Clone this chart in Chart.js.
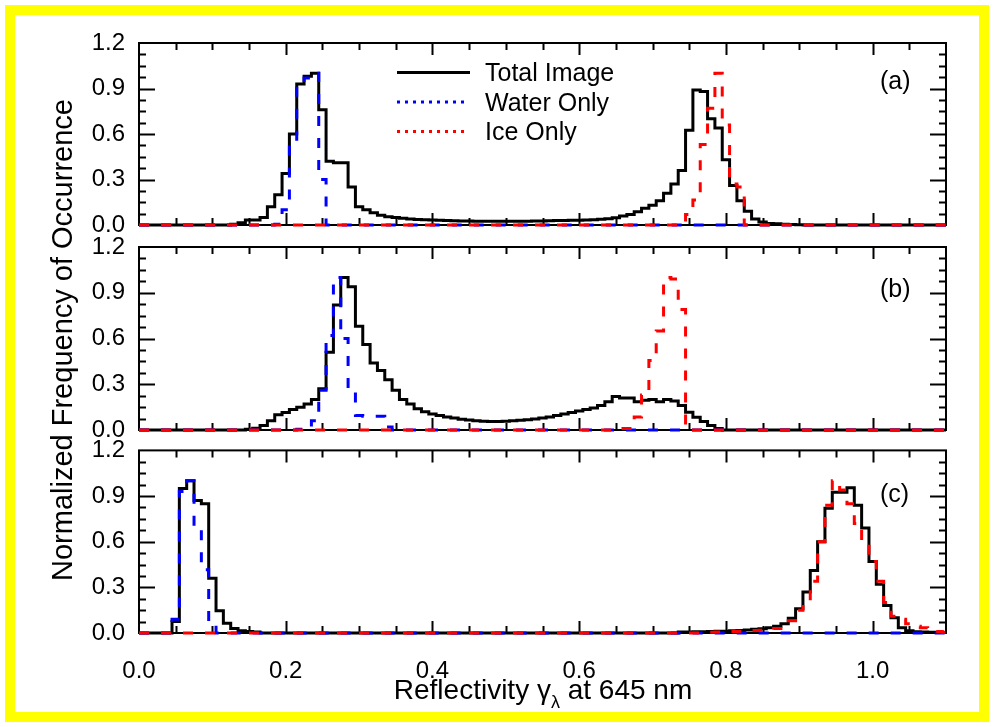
<!DOCTYPE html>
<html>
<head>
<meta charset="utf-8">
<script src="https://cdn.jsdelivr.net/npm/chart.js@4.4.0/dist/chart.umd.min.js"></script>
<style>
  body { margin: 0; width: 994px; height: 727px; background: #fff; position: relative; overflow: hidden;
         font-family: "Liberation Sans", Arial, sans-serif; color: #000; }
  #frame { position: absolute; left: 5px; top: 5px; width: 964px; height: 697px; border: 10px solid #ffff00; }
  canvas { position: absolute; left: 0; }
  .txt { position: absolute; white-space: nowrap; font-size: 25px; line-height: 30px; }
  #ytitle { position: absolute; left: 62px; top: 340px; font-size: 29px; white-space: nowrap;
            transform: translate(-50%, -50%) rotate(-90deg); }
  #xtitle { position: absolute; left: 543px; top: 674px; font-size: 28px; white-space: nowrap;
            transform: translateX(-50%); }
  #xtitle sub { font-size: 18px; vertical-align: -9px; }
</style>
</head>
<body>
<div id="frame"></div>
<canvas id="panelA" width="994" height="250" style="top:0px"></canvas>
<canvas id="panelB" width="994" height="230" style="top:225px"></canvas>
<canvas id="panelC" width="994" height="260" style="top:430px"></canvas>

<svg width="994" height="727" style="position:absolute;left:0;top:0">
  <line x1="397" y1="72.5" x2="470" y2="72.5" stroke="#000" stroke-width="3"/>
  <line x1="397" y1="102" x2="468" y2="102" stroke="#0000ff" stroke-width="3" stroke-dasharray="3 5"/>
  <line x1="397" y1="131.5" x2="468" y2="131.5" stroke="#ff0000" stroke-width="3" stroke-dasharray="3 5"/>
</svg>
<div class="txt" style="left:485px;top:57px">Total Image</div>
<div class="txt" style="left:485px;top:87px">Water Only</div>
<div class="txt" style="left:485px;top:116px">Ice Only</div>
<div class="txt" style="left:880px;top:65px">(a)</div>
<div class="txt" style="left:880px;top:273px">(b)</div>
<div class="txt" style="left:880px;top:478px">(c)</div>
<div id="ytitle">Normalized Frequency of Occurrence</div>
<div id="xtitle">Reflectivity &gamma;<sub>&lambda;</sub> at 645 nm</div>

<script>
'use strict';

// histogram bins are 0.01 wide, centred on 0.00 ... 1.10
// each series: first bin centre + the values (all other bins are zero)

// (a)
const totalAFrom = 0.13;
const totalA = [0.005, 0.015, 0.033, 0.033, 0.05, 0.12, 0.2, 0.34, 0.6, 0.93,
  0.98, 1.0, 0.76, 0.42, 0.41, 0.41, 0.25, 0.12, 0.10, 0.08,
  0.065, 0.055, 0.05, 0.045, 0.04, 0.037, 0.035, 0.033, 0.031, 0.03,
  0.028, 0.027, 0.026, 0.025, 0.024, 0.024, 0.024, 0.024, 0.024, 0.024,
  0.025, 0.026, 0.027, 0.028, 0.029, 0.03, 0.031, 0.032, 0.033, 0.035,
  0.038, 0.042, 0.048, 0.06, 0.07, 0.088, 0.11, 0.13, 0.16, 0.21,
  0.27, 0.36, 0.625, 0.89, 0.88, 0.70, 0.64, 0.43, 0.26, 0.16,
  0.09, 0.04, 0.02, 0.01, 0.008, 0.005, 0.003, 0.002];
const waterAFrom = 0.19;
const waterA = [0.005, 0.1, 0.55, 0.93, 0.97, 1.0, 0.3];
const iceAFrom = 0.74;
const iceA = [0.02, 0.07, 0.165, 0.53, 0.77, 1.0, 0.66, 0.27, 0.25];

// (b)
const totalBFrom = 0.15;
const totalB = [0.005, 0.012, 0.03, 0.06, 0.10, 0.115, 0.134, 0.15, 0.17, 0.20,
  0.27, 0.51, 0.82, 1.0, 0.94, 0.68, 0.56, 0.44, 0.39, 0.33,
  0.26, 0.20, 0.17, 0.14, 0.12, 0.105, 0.095, 0.085, 0.078, 0.07,
  0.065, 0.06, 0.058, 0.055, 0.055, 0.057, 0.06, 0.064, 0.068, 0.072,
  0.078, 0.085, 0.095, 0.105, 0.115, 0.125, 0.135, 0.145, 0.16, 0.186,
  0.22, 0.21, 0.21, 0.185, 0.195, 0.2, 0.185, 0.2, 0.19, 0.16,
  0.117, 0.084, 0.056, 0.03, 0.01];
const waterBFrom = 0.22;
const waterB = [0.005, 0.02, 0.06, 0.26, 0.62, 1.0, 0.6, 0.27, 0.095, 0.09, 0.09, 0.09, 0.02];
const iceBFrom = 0.66;
const iceB = [0.01, 0.01, 0.085, 0.23, 0.455, 0.65, 1.0, 0.99, 0.79];

// (c)
const totalCLowFrom = 0.05;
const totalCLow = [0.075, 0.95, 1.0, 0.87, 0.85, 0.36, 0.147, 0.064, 0.03, 0.015, 0.01, 0.007];
const totalCHighFrom = 0.74;
const totalCHigh = [0.006, 0.007, 0.008, 0.009, 0.01, 0.011, 0.012, 0.014, 0.017, 0.02,
  0.024, 0.028, 0.035, 0.045, 0.06, 0.097, 0.16, 0.27, 0.41, 0.6,
  0.82, 0.925, 0.925, 0.955, 0.84, 0.69, 0.47, 0.32, 0.18, 0.10,
  0.035, 0.015, 0.008, 0.006, 0.005, 0.004, 0.003];
const waterCFrom = 0.05;
const waterC = [0.09, 0.93, 1.0, 0.70, 0.415, 0.065];
const iceCFrom = 0.78;
const iceC = [0.005, 0.006, 0.008, 0.01, 0.012, 0.014, 0.016, 0.018, 0.022, 0.03,
  0.055, 0.08, 0.15, 0.225, 0.34, 0.6, 0.84, 1.0, 0.94, 0.85,
  0.72, 0.6, 0.47, 0.34, 0.2, 0.11, 0.09, 0.06, 0.045, 0.035,
  0.02, 0.01, 0.005];

const nBins = 111;

// turn (start, values) pieces into a full list of {x, y} points
function histPoints(...pieces) {
  let ys = new Array(nBins).fill(0);
  for (let p = 0; p < pieces.length; p += 2) {
    let first = Math.round(pieces[p] * 100);
    pieces[p + 1].forEach((v, i) => { ys[first + i] = v; });
  }
  return ys.map((v, i) => ({ x: i / 100, y: v }));
}

function makeDatasets(total, water, ice) {
  let common = { stepped: 'middle', borderWidth: 3, pointRadius: 0, fill: false, clip: 4,
                 borderJoinStyle: 'miter', borderCapStyle: 'butt' };
  return [
    Object.assign({ label: 'Ice Only', data: ice, borderColor: '#ff0000', borderDash: [10, 12], order: 1 }, common),
    Object.assign({ label: 'Water Only', data: water, borderColor: '#0000ff', borderDash: [10, 12], order: 2 }, common),
    Object.assign({ label: 'Total Image', data: total, borderColor: '#000000', order: 3 }, common),
  ];
}

// box round the plot with inward ticks on all four sides, drawn under the lines
const framePlugin = {
  id: 'frame',
  beforeDatasetsDraw(chart) {
    let ctx = chart.ctx;
    let a = chart.chartArea;
    let x = chart.scales.x, y = chart.scales.y;
    ctx.save();
    ctx.strokeStyle = '#000';
    ctx.lineWidth = 2;
    ctx.beginPath();
    for (let i = 1; i < 22; i++) {
      let px = Math.round(x.getPixelForValue(i * 0.05)) + 0.5;
      let len = i % 4 === 0 ? 12 : 7;
      ctx.moveTo(px, a.top); ctx.lineTo(px, a.top + len);
      ctx.moveTo(px, a.bottom); ctx.lineTo(px, a.bottom - len);
    }
    for (let i = 1; i < 16; i++) {
      let py = Math.round(y.getPixelForValue(i * 0.075)) + 0.5;
      let len = i % 4 === 0 ? 16 : 7;
      ctx.moveTo(a.left, py); ctx.lineTo(a.left + len, py);
      ctx.moveTo(a.right, py); ctx.lineTo(a.right - len, py);
    }
    ctx.stroke();
    ctx.strokeRect(a.left, a.top, a.right - a.left, a.bottom - a.top);
    ctx.restore();
  }
};

const tickFont = { family: '"Liberation Sans", Arial, sans-serif', size: 24 };

function panelOptions(padTop, xHeight, showX) {
  return {
    responsive: false,
    animation: false,
    layout: { padding: { top: padTop, right: 48, left: 0, bottom: 0 } },
    plugins: { legend: { display: false }, tooltip: { enabled: false } },
    scales: {
      x: {
        type: 'linear', min: 0, max: 1.1,
        grid: { display: false }, border: { display: false },
        ticks: { display: showX, stepSize: 0.2, includeBounds: false, padding: 16, maxRotation: 0,
                 color: '#000', font: tickFont, callback: v => v.toFixed(1) },
        afterFit: s => { s.height = xHeight; }
      },
      y: {
        min: 0, max: 1.2,
        grid: { display: false }, border: { display: false },
        ticks: { stepSize: 0.3, padding: 6, color: '#000', font: tickFont, callback: v => v.toFixed(1) },
        afterFit: s => { s.width = 139; }
      }
    }
  };
}

new Chart(document.getElementById('panelA'), {
  type: 'line',
  data: { datasets: makeDatasets(histPoints(totalAFrom, totalA), histPoints(waterAFrom, waterA), histPoints(iceAFrom, iceA)) },
  options: panelOptions(43, 25, false),
  plugins: [framePlugin]
});

new Chart(document.getElementById('panelB'), {
  type: 'line',
  data: { datasets: makeDatasets(histPoints(totalBFrom, totalB), histPoints(waterBFrom, waterB), histPoints(iceBFrom, iceB)) },
  options: panelOptions(22, 25, false),
  plugins: [framePlugin]
});

new Chart(document.getElementById('panelC'), {
  type: 'line',
  data: { datasets: makeDatasets(histPoints(totalCLowFrom, totalCLow, totalCHighFrom, totalCHigh),
                                 histPoints(waterCFrom, waterC), histPoints(iceCFrom, iceC)) },
  options: panelOptions(20, 57, true),
  plugins: [framePlugin]
});
</script>
</body>
</html>
